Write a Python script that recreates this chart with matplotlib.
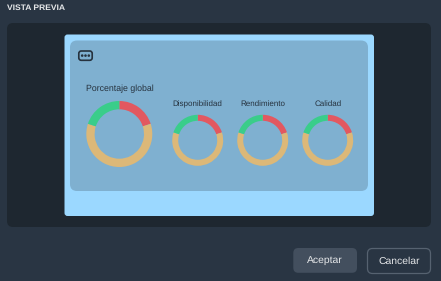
import matplotlib

matplotlib.use("Agg")
import matplotlib.pyplot as plt
from matplotlib.patches import Circle, FancyBboxPatch

W, H = 441, 281

gauge_names = ["Porcentaje global", "Disponibilidad", "Rendimiento", "Calidad"]
gauge_shares = [
    [20, 60, 20],
    [20, 60, 20],
    [20, 60, 20],
    [20, 60, 20],
]
share_colors = ["#e25860", "#dcb878", "#3acd8a"]

plt.rcParams["font.family"] = ["Liberation Sans", "DejaVu Sans"]
plt.rcParams["text.hinting"] = "no_hinting"


def rounded(ax, x0, y0, x1, y1, r, fc, ec="none", lw=0.0, z=1):
    # y values are pixels from the top, like in the screenshot
    ax.add_patch(FancyBboxPatch(
        (x0 + r, H - y1 + r), x1 - x0 - 2 * r, y1 - y0 - 2 * r,
        boxstyle=f"round,pad={r},rounding_size={r}",
        fc=fc, ec=ec, lw=lw, zorder=z,
    ))


fig = plt.figure(figsize=(W / 100, H / 100), dpi=100, facecolor="#293543")
ax = fig.add_axes([0, 0, 1, 1])

# dialog panels
rounded(ax, 7, 23, 431, 227, 6, "#1e2730")
rounded(ax, 64.5, 34.5, 374, 216, 3, "#9bd8ff", z=2)
rounded(ax, 70, 40.5, 368, 191, 7, "#7fb0d0", z=3)

ax.text(7, H - 8.3, "VISTA PREVIA", fontsize=6.1, fontweight="bold", color="#e6e8ea",
        ha="left", va="center")

# menu icon
rounded(ax, 78.8, 51, 92.2, 60.3, 2.5, "none", ec="#26323e", lw=1.2, z=4)
for cx in [82.2, 85.5, 88.8]:
    ax.add_patch(Circle((cx, H - 55.6), 1.3, fc="#26323e", ec="none", zorder=4))

# gauges
centers = [(119.3, 134.0), (197.7, 140.3), (262.7, 140.3), (327.7, 140.3)]
radii = [(33.0, 8.3), (25.5, 6.0), (25.5, 6.0), (25.5, 6.0)]
label_y = [89, 104, 104, 104]
label_size = [6.3, 5.8, 5.8, 5.8]
for name, shares, (cx, cy), (r, w), ly, fs in zip(
    gauge_names, gauge_shares, centers, radii, label_y, label_size
):
    wedges, _ = ax.pie(
        shares, colors=share_colors, startangle=90, counterclock=False,
        center=(cx, H - cy), radius=r, wedgeprops={"width": w, "linewidth": 0},
    )
    for wedge in wedges:
        wedge.set_zorder(5)
    ax.text(cx + (0.5 if ly == 89 else 0), H - ly, name, fontsize=fs, color="#26323e",
            ha="center", va="center", zorder=5)

# buttons
rounded(ax, 293.3, 248, 357, 272.8, 5, "#434f5e")
rounded(ax, 367.5, 248.5, 430.5, 273.5, 5, "none", ec="#566270", lw=0.9)
ax.text(324.7, H - 260.5, "Aceptar", fontsize=7.5, color="#e6e8ea", ha="center", va="center")
ax.text(399.3, H - 261.5, "Cancelar", fontsize=7.5, color="#e6e8ea", ha="center", va="center")

ax.set_aspect("auto")
ax.set_xlim(0, W)
ax.set_ylim(0, H)
ax.axis("off")

fig.savefig("out.png", dpi=100, facecolor=fig.get_facecolor())
plt.close(fig)
